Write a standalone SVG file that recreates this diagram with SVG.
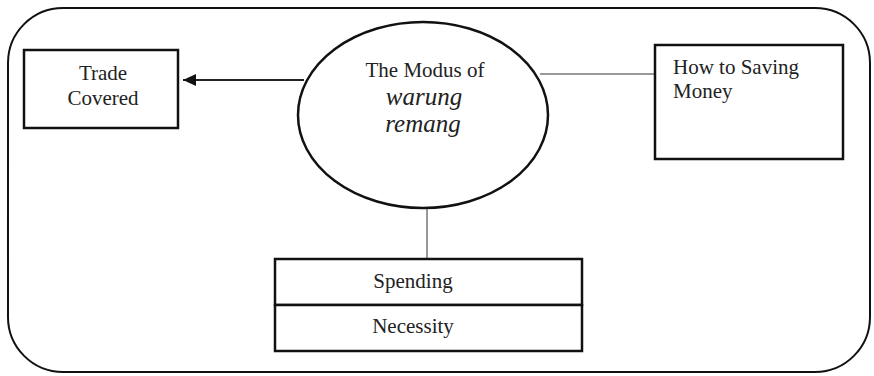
<svg xmlns="http://www.w3.org/2000/svg" width="874" height="376" viewBox="0 0 874 376">
<style>
.box{fill:#fff;stroke:#111;stroke-width:2.5}
.t{font-family:"Liberation Serif","Times New Roman",serif;font-size:21px;fill:#222}
.i{font-family:"Liberation Serif","Times New Roman",serif;font-size:25px;font-style:italic;fill:#222}
.c{text-anchor:middle}
.thin{stroke:#777;stroke-width:1.5;fill:none}
</style>
<defs>
<marker id="ah" markerWidth="14" markerHeight="12" refX="13" refY="6" orient="auto" markerUnits="userSpaceOnUse">
<path d="M0,0 L13,6 L0,12 Z" fill="#111"/>
</marker>
</defs>
<rect id="frame" x="8" y="8" width="862" height="364" rx="55" ry="55" fill="#fff" stroke="#111" stroke-width="2"/>
<g id="connectors">
<line x1="304" y1="80" x2="183" y2="80" stroke="#222" stroke-width="2" marker-end="url(#ah)"/>
<line class="thin" x1="540" y1="74" x2="654" y2="74"/>
<line class="thin" x1="427" y1="208" x2="427" y2="259"/>
</g>
<g id="trade">
<rect class="box" x="24" y="50" width="154" height="78"/>
<text class="t c" x="103" y="80">Trade</text>
<text class="t c" x="103" y="105">Covered</text>
</g>
<g id="modus">
<ellipse cx="423" cy="115" rx="125" ry="93" fill="#fff" stroke="#111" stroke-width="2.5"/>
<text class="t c" x="425" y="77">The Modus of</text>
<text class="i c" x="424" y="105">warung</text>
<text class="i c" x="423" y="132">remang</text>
</g>
<g id="saving">
<rect class="box" x="655" y="45" width="188" height="114"/>
<text class="t" x="673" y="74">How to Saving</text>
<text class="t" x="673" y="98">Money</text>
</g>
<g id="spending">
<rect class="box" x="275" y="259" width="307" height="46"/>
<text class="t c" x="413" y="288">Spending</text>
</g>
<g id="necessity">
<rect class="box" x="275" y="305" width="307" height="46"/>
<text class="t c" x="413" y="333">Necessity</text>
</g>
</svg>
